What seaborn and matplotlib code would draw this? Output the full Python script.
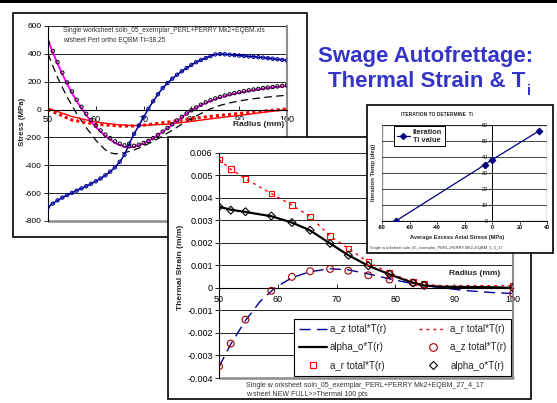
import matplotlib
matplotlib.use("Agg")
import matplotlib.pyplot as plt
from matplotlib.patches import Rectangle
from matplotlib.lines import Line2D
import seaborn as sns

# ---------------- data: chart 1 (stress) ----------------
r1 = list(range(50, 101))
hoop_blue = [-700, -675, -652, -632, -614, -598, -582, -566, -550, -533, -515,
             -495, -472, -446, -415, -375, -325, -245, -175, -115, -55,
             5, 60, 110, 155, 190, 222, 250, 275, 298, 320,
             340, 356, 370, 384, 396, 399, 397, 394, 391, 388,
             385, 382, 379, 376, 373, 369, 365, 361, 357, 353]
axial_circ = [480, 420, 340, 265, 195, 130, 70, 20, -30, -75, -115,
              -150, -180, -205, -228, -245, -257, -262, -260, -252, -240,
              -225, -205, -182, -158, -132, -105, -78, -52, -28, -5,
              15, 35, 52, 67, 80, 91, 101, 110, 118, 125,
              132, 138, 144, 149, 154, 158, 162, 166, 170, 173]
r1b = [50, 51, 52, 53, 54, 55, 56, 57, 58, 59, 60, 62, 64, 66, 67, 68, 70, 72,
       74, 76, 78, 80, 82, 84, 86, 88, 90, 92, 94, 96, 98, 100]
axial_mag = [500, 410, 330, 255, 185, 120, 60, 10, -40, -85, -125, -190, -240,
             -268, -272, -268, -245, -205, -160, -110, -55, -5, 32, 62, 87,
             106, 121, 134, 145, 155, 163, 170]
r1c = [50, 52, 54, 56, 58, 60, 62, 63, 64, 65, 66, 68, 70, 72, 74, 76, 78, 80,
       82, 84, 86, 88, 90, 92, 94, 96, 98, 100]
axial_dash = [400, 230, 90, -30, -130, -220, -290, -310, -318, -316, -310,
              -290, -262, -228, -190, -148, -105, -65, -28, 5, 30, 48, 62,
              73, 82, 90, 97, 103]
r1d = [50, 55, 60, 65, 68, 70, 75, 80, 85, 90, 95, 100]
radial_solid = [10, -50, -90, -110, -115, -113, -105, -85, -62, -42, -20, 0]
radial_dot = [0, -75, -105, -118, -118, -112, -90, -65, -45, -28, -12, 5]
y1_ticks = [-800, -600, -400, -200, 0, 200, 400, 600]
x1_ticks = [50, 60, 70, 80, 90, 100]

# ---------------- data: chart 2 (thermal strain) ----------------
r2m = [50, 52, 54.5, 58.9, 62.4, 65.5, 68.9, 72, 75.4, 79, 83, 84.9, 100]
az_pts = [-0.00348, -0.00247, -0.00141, -0.00013, 0.00049, 0.00074, 0.00084,
          0.00076, 0.00056, 0.00037, 0.00022, 0.0001, -0.00025]
ar_pts = [0.0057, 0.00527, 0.00484, 0.00419, 0.00367, 0.00316, 0.0023,
          0.00175, 0.00114, 0.00067, 0.00025, 0.00018, 0.0001]
al_pts = [0.0036, 0.00345, 0.00338, 0.00319, 0.0029, 0.00256, 0.00197,
          0.00145, 0.00098, 0.00061, 0.00022, 0.00012, 0.0]
r2l = [50, 52, 54.5, 57, 59.5, 62.4, 65.5, 68.9, 72, 75.4, 79, 83, 85, 88, 92, 96, 100]
az_line = [-0.0035, -0.0025, -0.00145, -0.0006, 0.0, 0.00045, 0.00072, 0.00085,
           0.0008, 0.00062, 0.0004, 0.00018, 0.0001, 0.0, -0.00012, -0.0002, -0.00025]
r2k = [50, 52, 54.5, 58.9, 62.4, 65.5, 68.9, 72, 75.4, 79, 83, 85, 88, 92, 96, 100]
ar_line = [0.0057, 0.00527, 0.00484, 0.00419, 0.00367, 0.00316, 0.0023, 0.00175,
           0.00114, 0.00067, 0.00025, 0.00015, 0.0001, 0.0001, 0.0001, 0.0001]
al_line = [0.0036, 0.00347, 0.00337, 0.00318, 0.0029, 0.00255, 0.00197, 0.00145,
           0.00098, 0.0006, 0.00022, 0.0001, 0.00005, 0.00004, 0.00003, 0.0]
y2_ticks = [-0.004, -0.003, -0.002, -0.001, 0, 0.001, 0.002, 0.003, 0.004, 0.005, 0.006]
y2_labels = ['-0.004', '-0.003', '-0.002', '-0.001', '0', '0.001', '0.002',
             '0.003', '0.004', '0.005', '0.006']
x2_ticks = [50, 60, 70, 80, 90, 100]
legend2_labels = ["a_z total*T(r)", "alpha_o*T(r)", "a_r total*T(r)",
                  "a_r total*T(r)", "a_z total*T(r)", "alpha_o*T(r)"]

# ---------------- data: chart 3 (iteration) ----------------
it_stress = [-70, -5, 0, 34]
it_temp = [0, 35.3, 38.25, 56.2]
x3_ticks = [-80, -60, -40, -20, 0, 20, 40]
y3_ticks = [0, 10, 20, 30, 40, 50, 60]

# ---------------- figure ----------------
sns.set_style("white")
plt.rcParams['font.family'] = ['Liberation Sans', 'DejaVu Sans']
plt.rcParams['axes.unicode_minus'] = False

W, H = 557, 403
fig = plt.figure(figsize=(W / 100, H / 100), dpi=100)
fig.patch.set_facecolor('white')


def fx(px):
    return px / W


def fy(py):
    return 1 - py / H


def frame(x0, y0, x1, y1, z):
    fig.add_artist(Rectangle((fx(x0), fy(y1)), fx(x1) - fx(x0), fy(y0) - fy(y1),
                             transform=fig.transFigure, facecolor='white',
                             edgecolor='black', lw=1.2, zorder=z))


def box(x0, y0, x1, y1):
    return [fx(x0), fy(y1), fx(x1) - fx(x0), fy(y0) - fy(y1)]


# top bar of slide
fig.add_artist(Rectangle((0, fy(3)), 1, fy(0) - fy(3), transform=fig.transFigure,
                         facecolor='black', edgecolor='none', zorder=0.5))

# title
BLUE_T = '#3434c8'
fig.text(fx(318), fy(61.7), "Swage Autofrettage:", ha='left', va='baseline',
         fontsize=16, fontweight='bold', color=BLUE_T, zorder=0.6)
fig.text(fx(328), fy(87.3), "Thermal Strain & T", ha='left', va='baseline',
         fontsize=16, fontweight='bold', color=BLUE_T, zorder=0.6)
fig.text(fx(527.5), fy(95), "i", ha='left', va='baseline',
         fontsize=10.5, fontweight='bold', color=BLUE_T, zorder=0.6)

# ================= chart 1 =================
frame(13, 13, 307, 237, 1)
ax1 = fig.add_axes(box(48, 26, 287, 221), zorder=2)
ax1.set_facecolor('none')
sns.lineplot(x=r1c, y=axial_dash, ax=ax1, color='black', lw=0.9,
             linestyle=(0, (6, 3.5)), estimator=None, sort=False)
sns.lineplot(x=r1d, y=radial_dot, ax=ax1, color='#ff0000', lw=2.2,
             linestyle=(0, (1, 1)), estimator=None, sort=False)
sns.lineplot(x=r1d, y=radial_solid, ax=ax1, color='#ff0000', lw=1.0,
             estimator=None, sort=False)
sns.lineplot(x=r1b, y=axial_mag, ax=ax1, color='#ff00ff', lw=1.4,
             estimator=None, sort=False)
sns.scatterplot(x=r1, y=axial_circ, ax=ax1, marker='o', s=6, facecolors='none',
                edgecolor='black', linewidths=0.7, zorder=3)
sns.lineplot(x=r1, y=hoop_blue, ax=ax1, color='#000099', lw=1.1,
             estimator=None, sort=False)
sns.scatterplot(x=r1, y=hoop_blue, ax=ax1, marker='o', s=6, facecolors='none',
                edgecolor='#000099', linewidths=0.7, zorder=3)

ax1.set_xlim(50, 100)
ax1.set_ylim(-800, 600)
ax1.set_xticks(x1_ticks)
ax1.set_xticklabels([str(v) for v in x1_ticks])
ax1.set_yticks(y1_ticks)
ax1.set_yticklabels([str(v) for v in y1_ticks])
ax1.set_xlabel('')
ax1.set_ylabel('')
ax1.grid(axis='y', color='black', lw=0.6)
ax1.grid(axis='x', visible=False)
ax1.spines['bottom'].set_position(('data', 0))
ax1.spines['bottom'].set_color('black')
ax1.spines['bottom'].set_linewidth(0.8)
ax1.spines['left'].set_color('black')
ax1.spines['left'].set_linewidth(0.8)
ax1.spines['top'].set_visible(False)
ax1.spines['right'].set_color('#8c8c8c')
ax1.spines['right'].set_linewidth(1.5)
ax1.axhline(-800, color='#8c8c8c', lw=1.8, clip_on=False, zorder=1)
ax1.tick_params(axis='y', direction='out', length=3, width=0.6, pad=1.5,
                labelsize=6, colors='black', left=True)
ax1.tick_params(axis='x', direction='in', length=3, width=0.6, pad=4,
                labelsize=6.5, colors='black', bottom=True)
ax1.text(94.1, -108, "Radius (mm)", ha='center', va='center', fontsize=6,
         fontweight='bold', zorder=5,
         bbox=dict(facecolor='white', edgecolor='none', pad=0.6))
ax1.text(fx(22), fy(122), "Stress (MPa)", rotation=90, ha='center', va='center',
         fontsize=5.7, fontweight='bold', transform=fig.transFigure)
ax1.text(fx(63), fy(30.5), "Single worksheet soln_05_exemplar_PERL+PERRY Mk2+EQBM.xls",
         ha='left', va='center', fontsize=4.8, color='#333333',
         transform=fig.transFigure)
ax1.text(fx(63), fy(40), "w/sheet Perl ortho EQBM Ti=38.25",
         ha='left', va='center', fontsize=4.8, color='#333333',
         transform=fig.transFigure)

# ================= chart 2 =================
frame(168, 137, 531, 399, 3)
ax2 = fig.add_axes(box(219, 152.7, 513, 378), zorder=4)
ax2.set_facecolor('none')
NAVY = '#000099'
sns.lineplot(x=r2l, y=az_line, ax=ax2, color=NAVY, lw=1.0,
             linestyle=(0, (8, 4.5)), estimator=None, sort=False)
sns.lineplot(x=r2k, y=ar_line, ax=ax2, color='#ff0000', lw=1.0,
             linestyle=(0, (2, 3)), estimator=None, sort=False)
sns.lineplot(x=r2k, y=al_line, ax=ax2, color='black', lw=1.6,
             estimator=None, sort=False)
sns.scatterplot(x=r2m, y=az_pts, ax=ax2, marker='o', s=24, facecolors='none',
                edgecolor='#a00000', linewidths=0.8, zorder=3)
sns.scatterplot(x=r2m, y=ar_pts, ax=ax2, marker='s', s=16, facecolors='none',
                edgecolor='#ff0000', linewidths=0.8, zorder=3)
sns.scatterplot(x=r2m, y=al_pts, ax=ax2, marker='D', s=16, facecolors='none',
                edgecolor='black', linewidths=0.8, zorder=3)

ax2.set_xlim(50, 100)
ax2.set_ylim(-0.004, 0.006)
ax2.set_xticks(x2_ticks)
ax2.set_xticklabels([str(v) for v in x2_ticks])
ax2.set_yticks(y2_ticks)
ax2.set_yticklabels(y2_labels)
ax2.set_xlabel('')
ax2.set_ylabel('')
ax2.grid(axis='y', color='black', lw=0.6)
ax2.grid(axis='x', visible=False)
ax2.spines['bottom'].set_position(('data', 0))
ax2.spines['bottom'].set_color('black')
ax2.spines['bottom'].set_linewidth(0.8)
ax2.spines['left'].set_color('black')
ax2.spines['left'].set_linewidth(0.8)
ax2.spines['top'].set_visible(False)
ax2.spines['right'].set_color('#8c8c8c')
ax2.spines['right'].set_linewidth(1.5)
ax2.axhline(-0.004, color='#8c8c8c', lw=1.8, clip_on=False, zorder=1)
ax2.tick_params(axis='y', direction='out', length=3, width=0.6, pad=1.5,
                labelsize=6.5, colors='black', left=True)
ax2.tick_params(axis='x', direction='in', length=3, width=0.6, pad=5,
                labelsize=6.5, colors='black', bottom=True)
ax2.text(93.5, 0.00063, "Radius (mm)", ha='center', va='center', fontsize=6,
         fontweight='bold')
ax2.text(fx(180.5), fy(267), "Thermal Strain (m/m)", rotation=90, ha='center',
         va='center', fontsize=6, fontweight='bold', transform=fig.transFigure)
ax2.text(fx(246), fy(385.5), "Single w orksheet soln_05_exemplar_PERL+PERRY Mk2+EQBM_27_4_17",
         ha='left', va='center', fontsize=5, color='#333333',
         transform=fig.transFigure)
ax2.text(fx(246), fy(395), "w sheet NEW FULL>>Thermal 100 pts",
         ha='left', va='center', fontsize=5, color='#333333',
         transform=fig.transFigure)

handles2 = [
    Line2D([], [], color=NAVY, lw=1.0, ls=(0, (8, 4.5))),
    Line2D([], [], color='black', lw=1.6),
    Line2D([], [], ls='none', marker='s', mfc='none', mec='#ff0000', ms=4.5, mew=0.8),
    Line2D([], [], color='#ff0000', lw=1.0, ls=(0, (2, 3))),
    Line2D([], [], ls='none', marker='o', mfc='none', mec='#a00000', ms=5.5, mew=0.8),
    Line2D([], [], ls='none', marker='D', mfc='none', mec='black', ms=4.5, mew=0.8),
]
leg2 = ax2.legend(handles2, legend2_labels, ncol=2, loc='center',
                  bbox_to_anchor=(fx(402.5), fy(347.5)),
                  bbox_transform=fig.transFigure, fontsize=7, frameon=True,
                  fancybox=False, edgecolor='black', framealpha=1,
                  handlelength=2.9, handletextpad=0.3, columnspacing=3.4,
                  labelspacing=0.85, borderpad=0.5)
leg2.get_frame().set_linewidth(0.8)

# ================= chart 3 =================
frame(367, 105, 553, 253, 5)
ax3 = fig.add_axes(box(382, 125, 547, 221), zorder=6)
ax3.set_facecolor('none')
sns.lineplot(x=it_stress, y=it_temp, ax=ax3, color='#000080', lw=0.9,
             marker='D', markersize=3.4, mec='#000080', mfc='#000080',
             estimator=None, sort=False, zorder=3)
ax3.set_xlim(-80, 40)
ax3.set_ylim(0, 60)
ax3.set_xticks(x3_ticks)
ax3.set_xticklabels([str(v) for v in x3_ticks], fontweight='bold')
ax3.set_yticks(y3_ticks)
ax3.set_yticklabels([str(v) for v in y3_ticks], fontweight='bold')
ax3.set_xlabel('')
ax3.set_ylabel('')
ax3.grid(axis='y', color='black', lw=0.5)
ax3.grid(axis='x', visible=False)
ax3.add_patch(Rectangle((0, 0), 1, 1, transform=ax3.transAxes, fill=False,
                        edgecolor='#8c8c8c', lw=1.0, zorder=0.5))
ax3.spines['left'].set_position(('data', 0))
ax3.spines['left'].set_color('black')
ax3.spines['left'].set_linewidth(0.7)
ax3.spines['bottom'].set_color('black')
ax3.spines['bottom'].set_linewidth(0.7)
ax3.spines['top'].set_visible(False)
ax3.spines['right'].set_visible(False)
ax3.tick_params(axis='both', direction='out', length=2, width=0.5, pad=1.2,
                labelsize=3.9, colors='black', left=True, bottom=True)
ax3.text(fx(437), fy(114), "ITERATION TO DETERMINE  Ti", ha='center', va='center',
         fontsize=3.5, fontweight='bold', transform=fig.transFigure)
ax3.text(fx(457), fy(237.5), "Average Excess Axial Stress (MPa)", ha='center',
         va='center', fontsize=4.1, fontweight='bold', transform=fig.transFigure)
ax3.text(fx(373.5), fy(172), "Iteration Temp (deg)", rotation=90, ha='center',
         va='center', fontsize=4.3, fontweight='bold', transform=fig.transFigure)
ax3.text(fx(370), fy(248), "Single w orksheet soln_05_exemplar_PERL+PERRY Mk2+EQBM_5_5_17",
         ha='left', va='center', fontsize=2.9, color='#333333',
         transform=fig.transFigure)
h3 = [Line2D([], [], color='#000080', lw=0.9, marker='D', ms=3.0,
             mfc='#000080', mec='#000080')]
leg3 = ax3.legend(h3, ["Iteration\nTi value"], loc='upper left',
                  bbox_to_anchor=(fx(394), fy(126)), bbox_transform=fig.transFigure,
                  prop={'size': 5.3, 'weight': 'bold'}, frameon=True, fancybox=False,
                  edgecolor='black', framealpha=1, handlelength=1.8,
                  handletextpad=0.4, borderpad=0.35, borderaxespad=0)
leg3.get_frame().set_linewidth(0.7)

fig.savefig("out.png", dpi=100, facecolor='white')
